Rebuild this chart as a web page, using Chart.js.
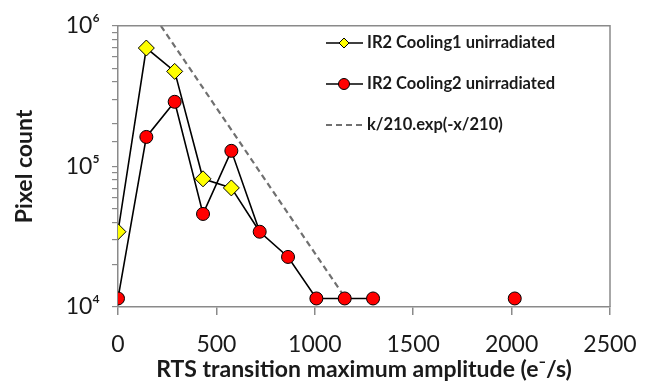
<!DOCTYPE html>
<html>
<head>
<meta charset="utf-8">
<script src="https://cdn.jsdelivr.net/npm/chart.js@4/dist/chart.umd.min.js"></script>
<style>
  body { margin: 0; background: #fff; }
  #wrap { width: 653px; height: 389px; }
</style>
</head>
<body>
<div id="wrap"><canvas id="grafico"></canvas></div>
<script>
// amplitude bins (e-/s)
var binsCooling1 = [0, 144, 288, 432, 576, 720];
var countsCooling1 = [34300, 695000, 474000, 81600, 70300, 34300];

var binsCooling2 = [0, 144, 288, 432, 576, 720, 864, 1008, 1152, 1296, 1500, 2016];
var countsCooling2 = [11500, 162000, 288000, 45900, 129000, 34300, 22700, 11500, 11500, 11500, null, 11500];

// dashed guide line, end points
var fitX = [218, 1160];
var fitY = [1000000, 11300];

var yTicks = [10000, 100000, 1000000];
var yTickLabels = ['10\u2074', '10\u2075', '10\u2076'];

var labels = ['IR2 Cooling1 unirradiated', 'IR2 Cooling2 unirradiated', 'k/210.exp(-x/210)'];

function punti(xs, ys) {
  return xs.map(function(x, i){ return {x: x, y: ys[i]}; });
}

var fontName = 'Lato, "Open Sans", sans-serif';

// box on top/right + hand made legend
var extra = {
  id: 'extra',
  afterDraw: function(chart){
    var c = chart.ctx, a = chart.chartArea;
    c.save();
    c.strokeStyle = '#8a8a8a';
    c.lineWidth = 1.5;
    c.beginPath();
    c.moveTo(a.left, a.top);
    c.lineTo(a.right, a.top);
    c.lineTo(a.right, a.bottom);
    c.stroke();

    var x0 = 326, x1 = 363, rows = [43, 84, 125];
    c.font = 'bold 16.5px ' + fontName;
    c.textBaseline = 'middle';
    c.fillStyle = '#1a1a1a';
    chart.data.datasets.forEach(function(ds, i){
      var y = rows[i];
      c.strokeStyle = ds.borderColor;
      c.lineWidth = ds.borderWidth;
      c.setLineDash(ds.borderDash || []);
      c.beginPath();
      c.moveTo(x0, y);
      c.lineTo(x1, y);
      c.stroke();
      c.setLineDash([]);
      if (ds.pointStyle === 'rectRot') {
        c.fillStyle = ds.pointBackgroundColor;
        c.strokeStyle = '#000';
        c.lineWidth = 1;
        c.beginPath();
        c.moveTo(344, y - 5); c.lineTo(349, y); c.lineTo(344, y + 5); c.lineTo(339, y);
        c.closePath(); c.fill(); c.stroke();
      } else if (ds.pointStyle === 'circle') {
        c.fillStyle = ds.pointBackgroundColor;
        c.strokeStyle = '#000';
        c.lineWidth = 1;
        c.beginPath();
        c.arc(344, y, 5.5, 0, Math.PI * 2);
        c.fill(); c.stroke();
      }
      c.fillStyle = '#1a1a1a';
      c.fillText(ds.label, 367, y);
    });
    c.restore();
  }
};

var ctx = document.getElementById('grafico');
var chart = new Chart(ctx, {
  type: 'scatter',
  data: {
    datasets: [{
      label: labels[0],
      data: punti(binsCooling1, countsCooling1),
      showLine: true,
      borderColor: '#000',
      borderWidth: 1.6,
      pointStyle: 'rectRot',
      pointBackgroundColor: '#ffff00',
      pointBorderColor: '#000',
      pointBorderWidth: 1,
      // last point sits under the red marker
      pointRadius: function(c){ return c.dataIndex < 5 ? 8 : 0; },
      order: 1
    }, {
      label: labels[1],
      data: punti(binsCooling2, countsCooling2),
      showLine: true,
      spanGaps: false,
      borderColor: '#000',
      borderWidth: 1.6,
      pointStyle: 'circle',
      pointBackgroundColor: '#ff0000',
      pointBorderColor: '#000',
      pointBorderWidth: 1,
      pointRadius: 6.5,
      order: 0
    }, {
      label: labels[2],
      data: punti(fitX, fitY),
      showLine: true,
      borderColor: '#707070',
      borderWidth: 2.2,
      borderDash: [6, 4],
      pointRadius: 0,
      order: 2
    }]
  },
  options: {
    responsive: true,
    maintainAspectRatio: false,
    animation: false,
    layout: { padding: { top: 19, right: 43, left: 0, bottom: 0 } },
    plugins: {
      legend: { display: false },
      tooltip: { enabled: false }
    },
    scales: {
      x: {
        type: 'linear',
        min: 0,
        max: 2500,
        afterFit: function(s){ s.height = 82; },
        ticks: {
          stepSize: 500,
          color: '#1a1a1a',
          font: { family: fontName, size: 23 },
          padding: 16,
          callback: function(v){ return String(v); }
        },
        grid: { display: true, drawOnChartArea: false, tickLength: 8, color: '#8a8a8a', lineWidth: 1.5 },
        border: { color: '#8a8a8a', width: 1.5 },
        title: {
          display: true,
          text: 'RTS transition maximum amplitude (e\u207B/s)',
          color: '#1a1a1a',
          font: { family: fontName, size: 23, weight: 'bold' },
          padding: { top: 4, bottom: 6 }
        }
      },
      y: {
        type: 'logarithmic',
        min: 10000,
        max: 1000000,
        afterFit: function(s){ s.width = 118; },
        ticks: {
          autoSkip: false,
          color: '#1a1a1a',
          font: { family: fontName, size: 23 },
          padding: 12,
          callback: function(v){
            var k = yTicks.indexOf(v);
            return k >= 0 ? yTickLabels[k] : '';
          }
        },
        grid: { display: true, drawOnChartArea: false, tickLength: 6, color: '#8a8a8a', lineWidth: 1.2 },
        border: { color: '#8a8a8a', width: 1.5 },
        title: {
          display: true,
          text: 'Pixel count',
          color: '#1a1a1a',
          font: { family: fontName, size: 23, weight: 'bold' },
          padding: { top: 11, bottom: 0 }
        }
      }
    }
  },
  plugins: [extra]
});
</script>
</body>
</html>
